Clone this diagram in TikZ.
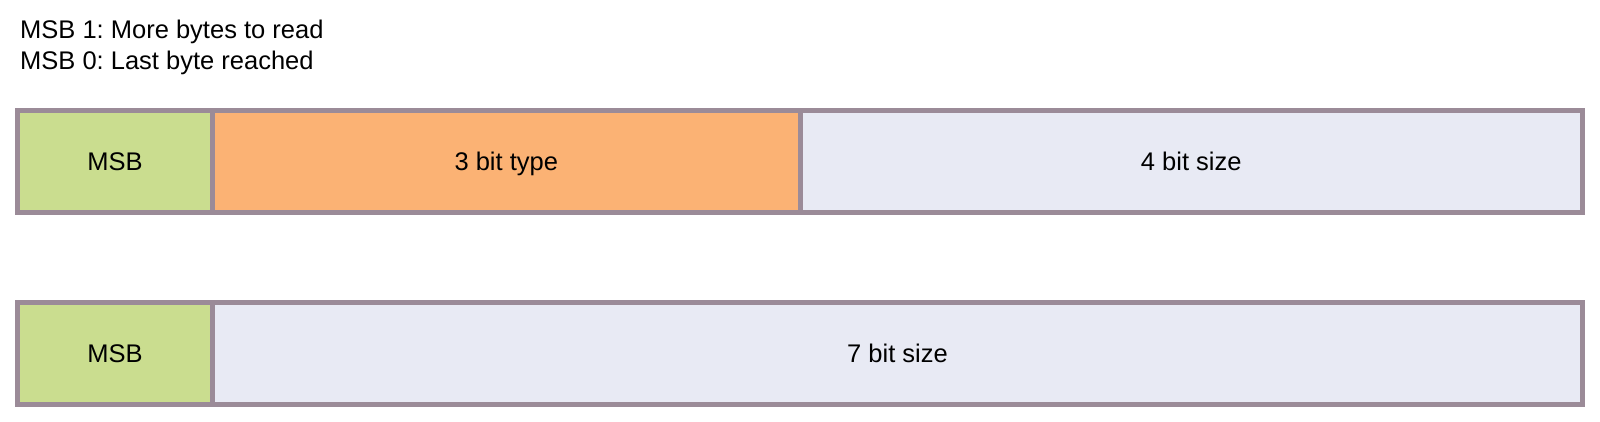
\documentclass[tikz,border=0pt]{standalone}
\usepackage{fontspec}
\setmainfont{Liberation Sans}
\frenchspacing
\definecolor{bordercol}{RGB}{155,139,152}
\definecolor{msbgreen}{RGB}{202,221,143}
\definecolor{typeorange}{RGB}{251,178,116}
\definecolor{sizegrey}{RGB}{232,234,244}
\begin{document}
\begin{tikzpicture}[x=1pt,y=-1pt,
  cell/.style={draw=bordercol,line width=5pt,inner sep=0pt,minimum height=102pt,
    text height=18.3pt,text depth=0pt,
    font=\fontsize{25.5}{30}\selectfont,text=black},
  headtext/.style={anchor=base west,inner sep=0pt,font=\fontsize{25.5}{30}\selectfont,text=black}]
\useasboundingbox (0,0) rectangle (1600,422);
\node[headtext] (h1) at (20,39) {MSB 1: More bytes to read};
\node[headtext] (h2) at (20,70) {MSB 0: Last byte reached};
% top row
\node[cell,fill=msbgreen,minimum width=195pt] (msbA) at (115,161.5) {MSB};
\node[cell,fill=typeorange,minimum width=587.5pt] (typeA) at (506.25,161.5) {3 bit type};
\node[cell,fill=sizegrey,minimum width=782.5pt] (sizeA) at (1191.25,161.5) {4 bit size};
% bottom row
\node[cell,fill=msbgreen,minimum width=195pt] (msbB) at (115,353.5) {MSB};
\node[cell,fill=sizegrey,minimum width=1370pt] (sizeB) at (897.5,353.5) {7 bit size};
\end{tikzpicture}
\end{document}
